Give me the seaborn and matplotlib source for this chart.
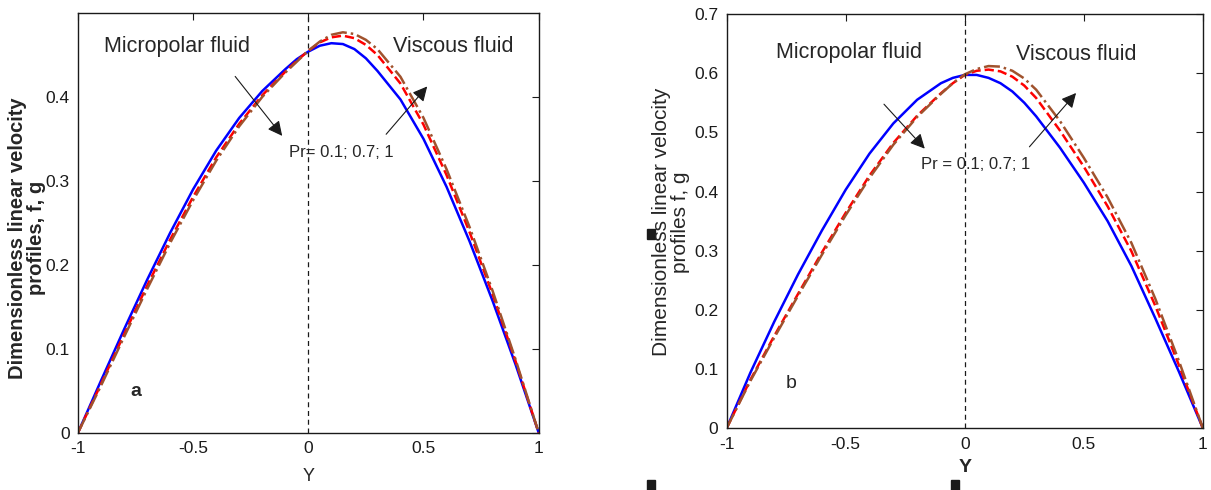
import numpy as np
import pandas as pd
import matplotlib
matplotlib.use("Agg")
import matplotlib.pyplot as plt
from matplotlib.patches import Rectangle
import seaborn as sns

# ---- data ----
Y = [-1, -0.9, -0.8, -0.7, -0.6, -0.5, -0.4, -0.3, -0.2, -0.1, -0.05,
     0, 0.05, 0.1, 0.15, 0.2, 0.25, 0.3, 0.4, 0.5, 0.6, 0.7, 0.8, 0.9, 1]

# panel a
a_pr01 = [0, 0.062, 0.123, 0.182, 0.238, 0.290, 0.336, 0.375, 0.407, 0.433, 0.445,
          0.454, 0.461, 0.464, 0.463, 0.457, 0.446, 0.431, 0.397, 0.350, 0.293, 0.228, 0.157, 0.081, 0]
a_pr07 = [0, 0.058, 0.117, 0.175, 0.230, 0.281, 0.328, 0.368, 0.402, 0.430, 0.443,
          0.455, 0.465, 0.471, 0.473, 0.470, 0.462, 0.450, 0.416, 0.367, 0.307, 0.239, 0.165, 0.085, 0]
a_pr1 = [0, 0.056, 0.114, 0.171, 0.226, 0.277, 0.324, 0.365, 0.400, 0.429, 0.442,
         0.455, 0.466, 0.474, 0.477, 0.475, 0.468, 0.457, 0.424, 0.375, 0.314, 0.245, 0.169, 0.087, 0]

# panel b
b_pr01 = [0, 0.094, 0.180, 0.260, 0.334, 0.403, 0.464, 0.515, 0.555, 0.583, 0.592,
          0.597, 0.597, 0.592, 0.583, 0.569, 0.550, 0.527, 0.474, 0.415, 0.350, 0.274, 0.186, 0.095, 0]
b_pr07 = [0, 0.082, 0.156, 0.227, 0.297, 0.364, 0.427, 0.482, 0.528, 0.566, 0.583,
          0.597, 0.604, 0.606, 0.603, 0.594, 0.579, 0.558, 0.503, 0.442, 0.375, 0.299, 0.207, 0.106, 0]
b_pr1 = [0, 0.080, 0.153, 0.224, 0.293, 0.360, 0.423, 0.479, 0.526, 0.565, 0.583,
         0.598, 0.607, 0.612, 0.611, 0.604, 0.591, 0.572, 0.519, 0.457, 0.390, 0.313, 0.219, 0.113, 0]

xticks = [-1, -0.5, 0, 0.5, 1]
xticklabels = ["-1", "-0.5", "0", "0.5", "1"]

sns.set_theme(style="white")
plt.rcParams['font.family'] = ['Liberation Sans', 'DejaVu Sans']

fig = plt.figure(figsize=(12.11, 4.90), dpi=100)
ax1 = fig.add_axes([0.0644, 0.117, 0.3804, 0.8565])
ax2 = fig.add_axes([0.600, 0.126, 0.3933, 0.8455])

series_style = [("#0000FF", "-"), ("#FF0000", "--"), ("#A0522D", "-.")]


def draw(ax, curves, ymax, yticks):
    for vals, (col, ls) in zip(curves, series_style):
        sns.lineplot(x=Y, y=vals, ax=ax, color=col, linestyle=ls, lw=1.8, sort=False)
    ax.axvline(0, color="k", ls=(0, (4, 3)), lw=0.9)
    ax.set_xlim(-1, 1)
    ax.set_ylim(0, ymax)
    ax.set_xticks(xticks)
    ax.set_xticklabels(xticklabels)
    ax.set_yticks(yticks)
    ax.set_yticklabels(["%g" % t for t in yticks])
    ax.tick_params(direction="in", top=True, right=True, length=5, width=0.8,
                   labelsize=12.5, pad=6, colors="k")
    for s in ax.spines.values():
        s.set_color("k")
        s.set_linewidth(1.0)


draw(ax1, [a_pr01, a_pr07, a_pr1], 0.5, [0, 0.1, 0.2, 0.3, 0.4])
draw(ax2, [b_pr01, b_pr07, b_pr1], 0.7, [0, 0.1, 0.2, 0.3, 0.4, 0.5, 0.6, 0.7])

arrow = dict(arrowstyle="-|>", mutation_scale=22, lw=0.8, color="k")

# panel a texts
ax1.text(-0.57, 0.46, "Micropolar fluid", fontsize=15.5, ha="center", va="center")
ax1.text(0.63, 0.46, "Viscous fluid", fontsize=15.5, ha="center", va="center")
ax1.text(-0.085, 0.334, "Pr= 0.1; 0.7; 1", fontsize=12, ha="left", va="center")
ax1.annotate("", xy=(-0.106, 0.351), xytext=(-0.325, 0.427), arrowprops=arrow)
ax1.annotate("", xy=(0.524, 0.415), xytext=(0.33, 0.353), arrowprops=arrow)
ax1.text(-0.75, 0.049, "a", fontsize=14, fontweight="bold", ha="center", va="center")
ax1.set_xlabel("Y", fontsize=13)
ax1.xaxis.set_label_coords(0.5, -0.085)
fig.text(27 / 1211, 1 - 238 / 490, "Dimensionless linear velocity\nprofiles, f, g",
         fontsize=14.5, fontweight="bold", rotation=90, ha="center", va="center",
         linespacing=0.95)

# panel b texts
ax2.text(-0.485, 0.635, "Micropolar fluid", fontsize=15.5, ha="center", va="center")
ax2.text(0.47, 0.632, "Viscous fluid", fontsize=15.5, ha="center", va="center")
ax2.text(-0.185, 0.446, "Pr = 0.1; 0.7; 1", fontsize=12, ha="left", va="center")
ax2.annotate("", xy=(-0.160, 0.469), xytext=(-0.347, 0.551), arrowprops=arrow)
ax2.annotate("", xy=(0.475, 0.570), xytext=(0.264, 0.472), arrowprops=arrow)
ax2.text(-0.73, 0.076, "b", fontsize=14, ha="center", va="center")
ax2.set_xlabel("Y", fontsize=14, fontweight="bold")
ax2.xaxis.set_label_coords(0.5, -0.075)
fig.text(671 / 1211, 1 - 222 / 490, "Dimensionless linear velocity\nprofiles f, g",
         fontsize=15, rotation=90, ha="center", va="center", linespacing=0.95)

# little black marks in the source image
for (px, py) in [(647, 229), (647, 480), (951, 480)]:
    fig.add_artist(Rectangle((px / 1211, 1 - (py + 10) / 490), 8 / 1211, 10 / 490,
                             transform=fig.transFigure, color="k"))

fig.savefig("out.png", dpi=100)
